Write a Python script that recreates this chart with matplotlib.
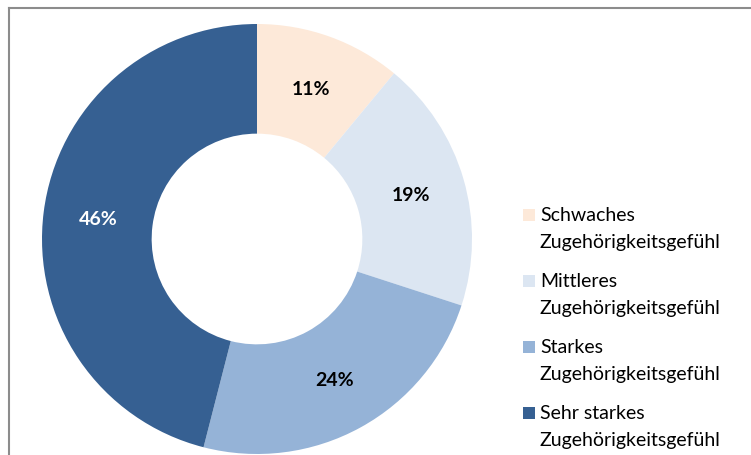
import matplotlib.pyplot as plt
from matplotlib.patches import Rectangle
from matplotlib.lines import Line2D

plt.rcParams['font.family'] = ['Lato', 'DejaVu Sans']

# Daten
kategorien = ['Schwaches\nZugehörigkeitsgefühl', 'Mittleres\nZugehörigkeitsgefühl',
              'Starkes\nZugehörigkeitsgefühl', 'Sehr starkes\nZugehörigkeitsgefühl']
anteile = [11, 19, 24, 46]
farben = ['#FDE9D9', '#DCE6F2', '#95B3D7', '#366092']
text_farben = ['black', 'black', 'black', 'white']

W, H = 751, 456
fig = plt.figure(figsize=(W / 100, H / 100), dpi=100)

# Donut: Mittelpunkt (257, 240) px, Radius 215 px
cx, cy, r = 257, 240, 215
ax = fig.add_axes([(cx - r) / W, (H - cy - r) / H, 2 * r / W, 2 * r / H])
wedges, texts, autotexts = ax.pie(anteile, colors=farben, startangle=90, counterclock=False,
                                  radius=1, autopct='%d%%', pctdistance=0.745,
                                  wedgeprops=dict(width=0.51, linewidth=0))
for t, c in zip(autotexts, text_farben):
    t.set_color(c)
    t.set_fontsize(14)
    t.set_fontweight('bold')
ax.set_xlim(-1, 1)
ax.set_ylim(-1, 1)
ax.axis('off')

# Rahmen
rahmen = '#8C8C8C'
fig.add_artist(Line2D([8.5 / W, 8.5 / W], [0, 1 - 8.5 / H], color=rahmen, lw=1.5, transform=fig.transFigure))
fig.add_artist(Line2D([8.5 / W, 1], [1 - 8.5 / H, 1 - 8.5 / H], color=rahmen, lw=1.5, transform=fig.transFigure))

# Legende
for i, (lab, col) in enumerate(zip(kategorien, farben)):
    base = 221 + i * 66
    fig.add_artist(Rectangle((523 / W, 1 - (base + 1) / H), 12 / W, 12 / H, facecolor=col,
                             edgecolor='none', transform=fig.transFigure))
    for j, zeile in enumerate(lab.split('\n')):
        fig.text(540 / W, 1 - (base + j * 27) / H, zeile, fontsize=14, va='baseline',
                 ha='left', color='black')

fig.savefig('out.png', dpi=100)
